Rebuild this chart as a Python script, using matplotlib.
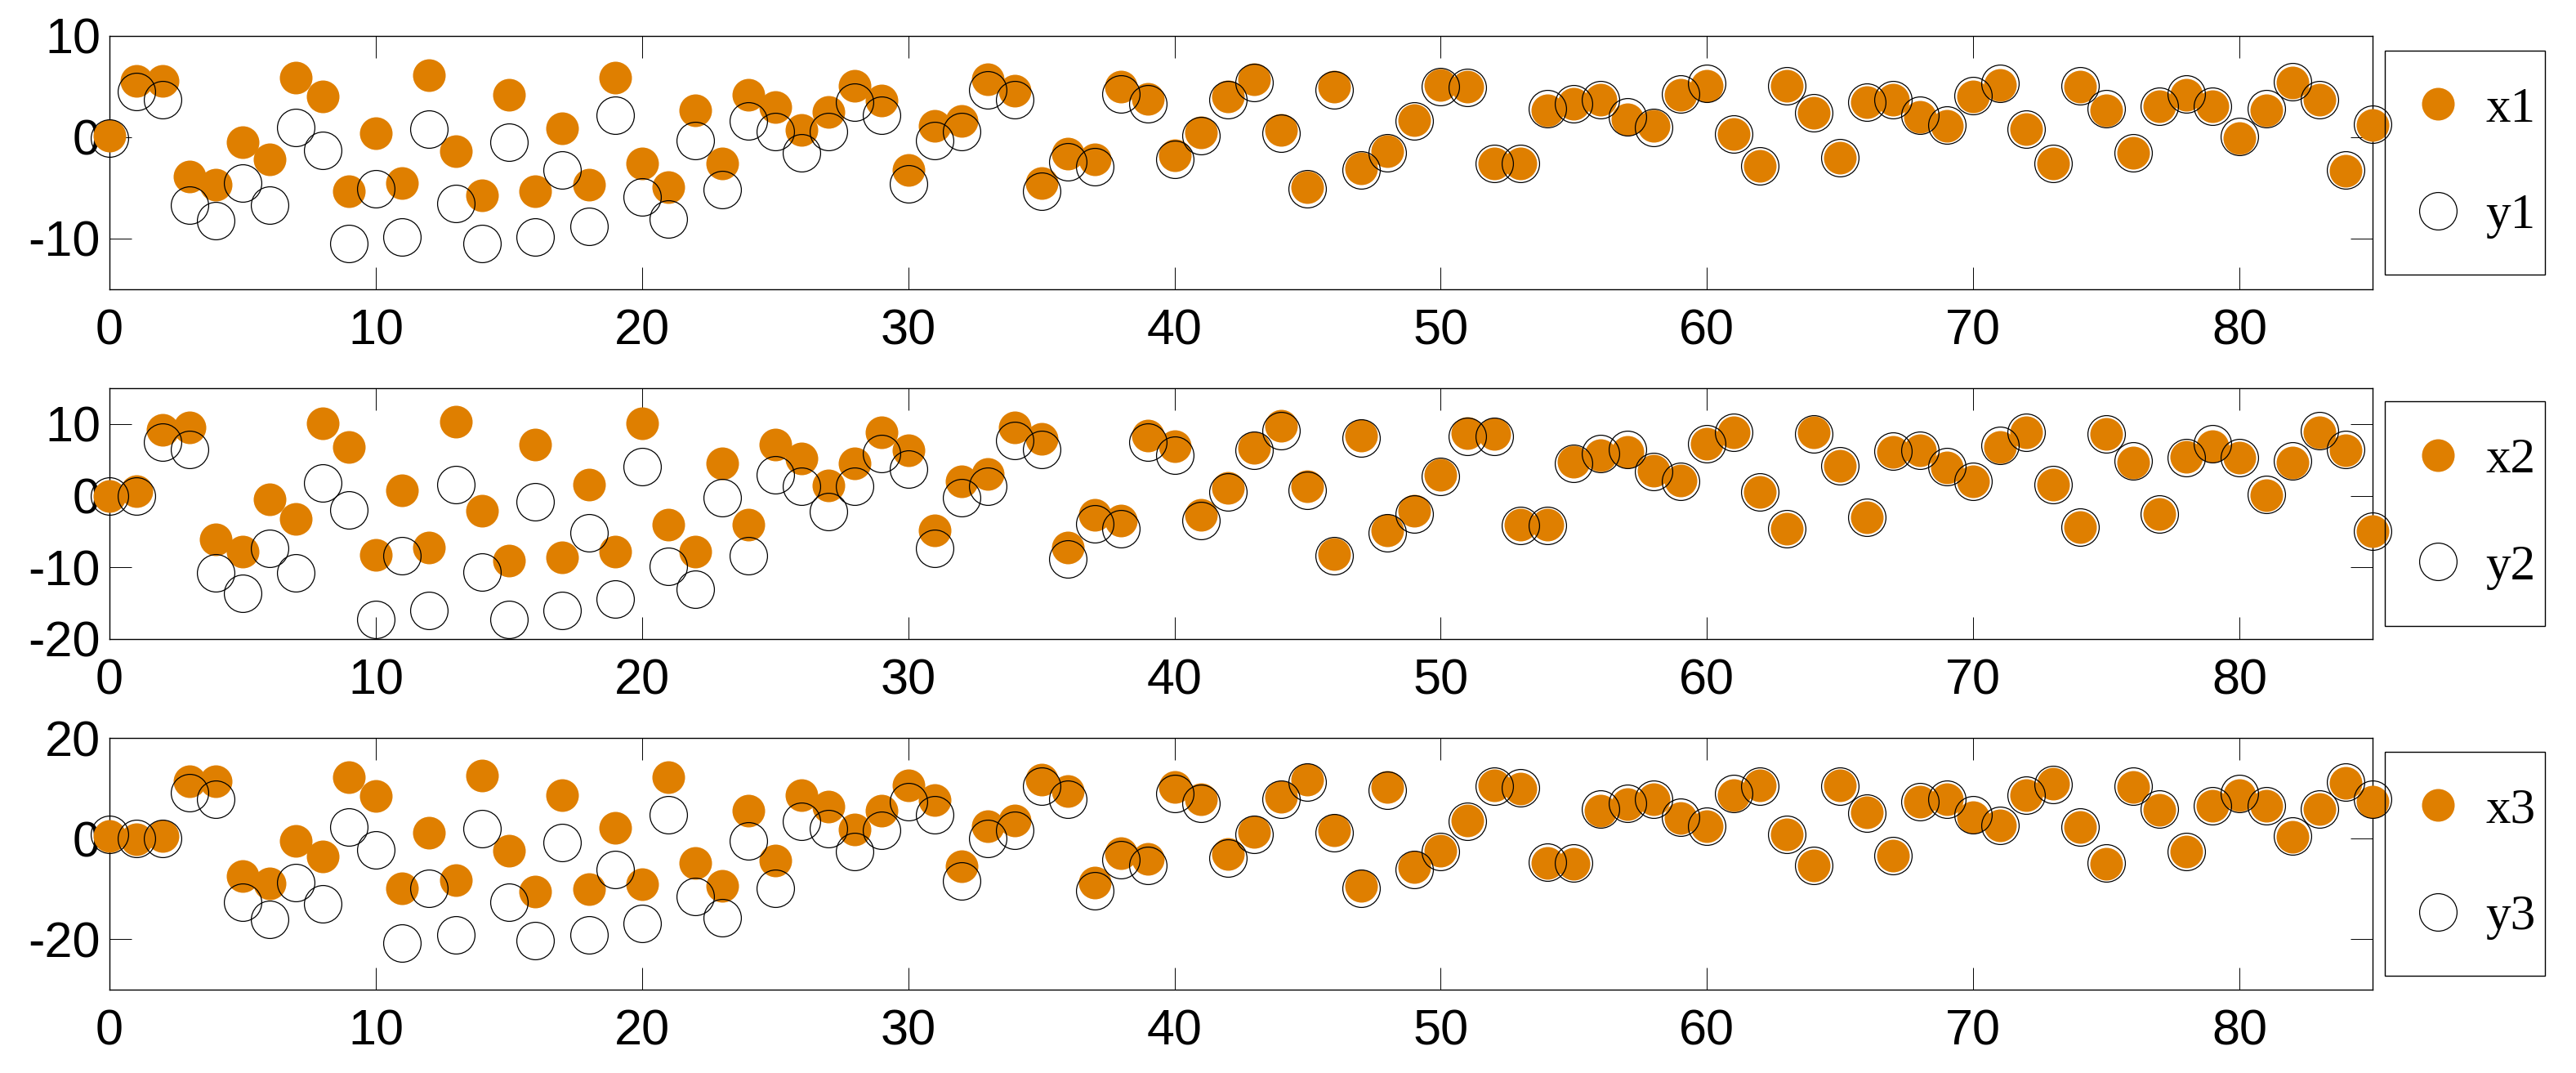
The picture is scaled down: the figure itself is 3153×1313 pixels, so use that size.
import numpy as np
import matplotlib
matplotlib.use("Agg")
from matplotlib import pyplot as plt
from matplotlib.patches import Rectangle

idx = np.arange(86)

x1 = [0.2, 5.6, 5.6, -3.9, -4.7, -0.5, -2.2, 5.9, 4.0, -5.3, 0.4, -4.5, 6.1, -1.4, -5.7, 4.2, -5.3, 0.9, -4.7, 5.9,
      -2.6, -4.9, 2.7, -2.6, 4.2, 3.0, 0.7, 2.5, 5.1, 3.6, -3.2, 1.1, 1.6, 5.7, 4.6, -4.5, -1.6, -2.2, 5.0, 3.8,
      -1.8, 0.5, 4.0, 5.7, 0.7, -4.9, 5.0, -3.1, -1.4, 1.7, 5.2, 5.0, -2.6, -2.6, 2.7, 3.3, 3.7, 1.8, 1.1, 4.2,
      5.1, 0.3, -2.8, 5.1, 2.4, -2.0, 3.5, 3.7, 2.0, 1.1, 4.0, 5.2, 0.8, -2.6, 5.0, 2.7, -1.5, 3.1, 4.2, 3.1,
      -0.1, 2.7, 5.4, 3.7, -3.3, 1.2]
y1 = [-0.1, 4.5, 3.7, -6.7, -8.2, -4.5, -6.7, 1.0, -1.3, -10.5, -5.1, -9.8, 0.8, -6.5, -10.5, -0.5, -9.8, -3.2, -8.8, 2.2,
      -5.9, -8.1, -0.3, -5.2, 1.6, 0.6, -1.5, 0.6, 3.5, 2.2, -4.6, -0.3, 0.6, 4.7, 3.7, -5.3, -2.4, -2.9, 4.3, 3.3,
      -2.2, 0.2, 3.7, 5.4, 0.4, -5.1, 4.7, -3.2, -1.5, 1.6, 5.0, 4.9, -2.6, -2.6, 2.8, 3.3, 3.7, 2.0, 1.0, 4.3,
      5.3, 0.3, -2.8, 5.1, 2.4, -2.0, 3.5, 3.7, 2.2, 1.2, 4.1, 5.3, 0.8, -2.6, 5.1, 2.8, -1.5, 3.1, 4.3, 3.1,
      0.1, 2.8, 5.5, 3.7, -3.2, 1.3]

x2 = [0.0, 0.6, 9.2, 9.5, -6.1, -7.8, -0.5, -3.2, 10.1, 6.8, -8.3, 0.7, -7.2, 10.3, -2.1, -9.1, 7.1, -8.6, 1.6, -7.8,
      10.1, -4.0, -7.8, 4.5, -4.0, 7.1, 5.2, 1.4, 4.5, 8.9, 6.3, -4.8, 2.0, 3.0, 9.5, 7.9, -7.2, -2.7, -3.5, 8.4,
      6.9, -2.7, 1.1, 6.7, 9.7, 1.3, -8.2, 8.4, -4.8, -2.1, 2.9, 8.7, 8.6, -4.0, -4.0, 4.7, 5.7, 6.1, 3.5, 2.1,
      7.2, 8.8, 0.5, -4.6, 8.8, 4.2, -3.0, 6.1, 6.3, 3.9, 2.0, 6.8, 8.8, 1.6, -4.4, 8.6, 4.6, -2.5, 5.4, 6.9,
      5.3, 0.1, 4.6, 8.9, 6.3, -5.0]
y2 = [-0.1, -0.1, 7.5, 6.4, -10.8, -13.6, -7.4, -10.8, 1.8, -2.0, -17.3, -8.4, -16.0, 1.5, -10.6, -17.3, -0.9, -16.0, -5.2, -14.4,
      4.0, -9.8, -13.0, -0.3, -8.4, 2.9, 1.3, -2.2, 1.3, 5.9, 3.7, -7.3, -0.3, 1.3, 7.7, 6.4, -8.8, -3.9, -4.6, 7.5,
      5.6, -3.5, 0.5, 6.3, 9.1, 0.8, -8.4, 8.1, -5.2, -2.5, 2.7, 8.3, 8.3, -4.1, -4.1, 4.5, 5.9, 6.4, 3.4, 2.0,
      7.2, 8.8, 0.5, -4.6, 8.6, 4.2, -3.0, 6.2, 6.3, 4.0, 2.0, 7.0, 8.8, 1.5, -4.4, 8.6, 4.8, -2.5, 5.3, 7.2,
      5.3, 0.2, 4.8, 9.1, 6.4, -4.9]

x3 = [0.5, -0.2, 0.5, 11.4, 11.4, -7.4, -8.9, -0.5, -3.6, 12.2, 8.4, -9.8, 1.1, -8.2, 12.6, -2.4, -10.6, 8.7, -10.1, 2.2,
      -9.1, 12.2, -4.8, -9.4, 5.6, -4.3, 8.7, 6.4, 1.8, 5.6, 10.6, 7.6, -5.5, 2.4, 3.6, 11.8, 9.5, -8.7, -2.9, -4.1,
      10.2, 7.9, -3.0, 1.4, 8.3, 11.7, 1.7, -9.4, 10.2, -5.6, -2.4, 3.6, 10.6, 10.0, -4.8, -5.0, 5.5, 6.8, 7.8, 4.1,
      2.4, 8.7, 10.6, 0.8, -5.4, 10.6, 5.3, -3.4, 7.3, 7.8, 4.3, 2.6, 8.7, 10.9, 2.3, -5.0, 10.3, 5.7, -2.6, 6.6,
      8.7, 6.6, 0.4, 5.8, 11.1, 7.3]
y3 = [0.8, 0.0, 0.0, 9.2, 7.8, -12.6, -16.1, -8.7, -13.0, 2.3, -2.3, -20.8, -9.9, -19.2, 1.9, -12.6, -20.3, -0.7, -19.2, -6.1,
      -16.9, 4.7, -11.5, -15.7, -0.4, -9.9, 3.5, 2.0, -2.6, 1.6, 7.3, 4.7, -8.4, 0.0, 1.6, 10.4, 7.9, -10.3, -4.2, -5.4,
      8.9, 7.0, -3.8, 0.8, 7.8, 11.2, 1.2, -9.9, 9.6, -6.1, -2.6, 3.5, 10.4, 10.1, -4.6, -4.9, 5.9, 7.0, 7.9, 4.3,
      2.4, 8.9, 10.4, 0.8, -5.4, 10.4, 5.0, -3.4, 7.3, 7.9, 4.7, 2.7, 8.6, 10.8, 2.3, -4.9, 10.4, 5.8, -2.6, 6.6,
      8.9, 6.6, 0.5, 5.8, 11.3, 7.9]

series = [(x1, y1, "x1", "y1"), (x2, y2, "x2", "y2"), (x3, y3, "x3", "y3")]
ylims = [(-15, 10), (-20, 15), (-30, 20)]
yticks = [[-10, 0, 10], [-20, -10, 0, 10], [-20, 0, 20]]
xticks = np.arange(0, 90, 10)

plt.rcParams['font.family'] = 'Liberation Sans'
plt.rcParams['axes.unicode_minus'] = False

ORANGE = '#DF7F00'
W, H = 3153, 1313
fig = plt.figure(figsize=(W / 100, H / 100), dpi=100)

# axes boxes in pixels, measured from the top of the image
left, right = 134, 2904
rows = [(44, 354), (475, 782), (903, 1211)]

legends = []
for (top, bot), (xs, ys, lx, ly), yl, yt in zip(rows, series, ylims, yticks):
    ax = fig.add_axes([left / W, 1 - bot / H, (right - left) / W, (bot - top) / H])
    ax.plot(idx, xs, 'o', color=ORANGE, ms=28.8, mew=0, clip_on=False, zorder=3, label=lx)
    ax.plot(idx, ys, 'o', mfc='none', mec='k', ms=33, mew=0.9, clip_on=False, zorder=4, label=ly)
    ax.set_xlim(0, 85)
    ax.set_ylim(*yl)
    ax.set_xticks(xticks)
    ax.set_yticks(yt)
    ax.tick_params(direction='in', top=True, right=True, length=19.4, width=0.7, labelsize=44)
    ax.tick_params(axis='x', pad=17)
    ax.tick_params(axis='y', pad=8)
    for s in ax.spines.values():
        s.set_linewidth(1.0)
    leg = ax.legend(loc='center left', bbox_to_anchor=(1.0224, 0.5), borderaxespad=0, borderpad=0,
                    frameon=False, handlelength=0.6, handletextpad=0.645, labelspacing=1.22,
                    numpoints=1, prop={'family': 'Liberation Serif', 'size': 44})
    legends.append(leg)

# legend frames: MATLAB style box, more room left of the markers than right of the text
fig.canvas.draw()
r = fig.canvas.get_renderer()
for leg in legends:
    bb = leg.get_window_extent(r)
    x0, x1_, y0, y1_ = bb.x0 - 47, bb.x1 + 12, bb.y0 - 44, bb.y1 + 44
    fig.add_artist(Rectangle((x0 / W, y0 / H), (x1_ - x0) / W, (y1_ - y0) / H,
                             transform=fig.transFigure, fill=False, ec='k', lw=1.0))

fig.savefig('out.png', dpi=100)
